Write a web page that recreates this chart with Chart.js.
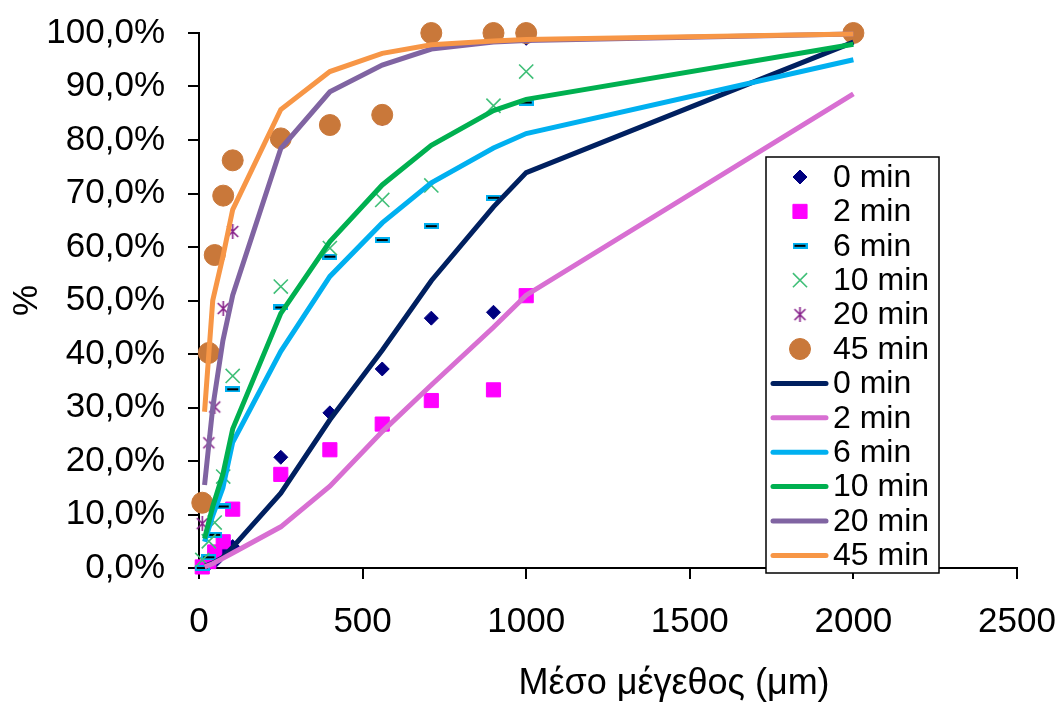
<!DOCTYPE html>
<html>
<head>
<meta charset="utf-8">
<script src="https://cdn.jsdelivr.net/npm/chart.js@4.4.1/dist/chart.umd.min.js"></script>
<style>
  html, body { margin: 0; padding: 0; background: #fff; }
  #wrap { width: 1058px; height: 702px; }
</style>
</head>
<body>
<div id="wrap"><canvas id="mychart" width="1058" height="702"></canvas></div>
<script>
// mean particle size (μm) of the measured fractions
const sizeX = [10, 30, 48, 74, 103, 250, 400, 560, 710, 900, 1000, 2000];
// sizes where the fitted curves are evaluated
const fitX = [17, 42, 73, 103, 250, 400, 560, 710, 900, 1000, 2000];

const seriesNames = ['0 min', '2 min', '6 min', '10 min', '20 min', '45 min'];

// measured cumulative passing, %
const meas0 = [0.3, 0.8, 1.2, 2.9, 4.0, 20.7, 29.0, 37.2, 46.7, 47.8, 99.0, 100];
const meas2 = [0.2, 1.2, 3.0, 4.9, 11.0, 17.5, 22.1, 26.9, 31.3, 33.3, 50.9, 100];
const meas6 = [0.0, 2.0, 6.2, 11.5, 33.4, 48.7, 58.2, 61.3, 63.9, 69.2, 87.0, 100];
const meas10 = [1.5, 5.0, 8.5, 17.1, 35.9, 52.6, 59.8, 68.8, 71.5, 86.4, 92.8, 100];
const meas20 = [8.3, 23.4, 30.1, 48.5, 62.9, 80.0, 82.5, 84.0, 100, 100, 100, 100];
const meas45 = [12.2, 40.2, 58.5, 69.6, 76.2, 80.3, 82.8, 84.7, 100, 100, 100, 100];

// fitted curves, %
const fit0 = [0.3, 0.9, 2.0, 3.9, 14.0, 27.7, 40.7, 53.7, 67.5, 73.9, 98.3];
const fit2 = [0.2, 0.8, 1.8, 2.8, 7.7, 15.3, 25.5, 34.2, 45.0, 51.0, 88.6];
const fit6 = [4.9, 9.8, 15.0, 23.5, 40.5, 54.5, 64.5, 72.0, 78.5, 81.2, 95.0];
const fit10 = [5.5, 11.5, 17.5, 26.0, 47.6, 61.0, 71.6, 79.0, 85.5, 87.6, 97.9];
const fit20 = [15.5, 30.0, 42.5, 51.0, 78.4, 89.0, 94.0, 97.0, 98.3, 98.6, 99.8];
const fit45 = [29.2, 50.0, 58.2, 67.0, 85.7, 92.8, 96.2, 97.8, 98.5, 98.8, 99.8];

const toPts = (xs, ys) => xs.map((x, i) => ({ x: x, y: ys[i] }));

// little canvases for the markers Chart.js has no style for
function dashMarker() {
  const c = document.createElement('canvas');
  c.width = 15; c.height = 6;
  const g = c.getContext('2d');
  g.fillStyle = '#00B0F0';
  g.fillRect(0, 0, 15, 6);
  g.fillStyle = '#000';
  g.fillRect(2, 2, 11, 2);
  return c;
}
function starMarker() {
  const c = document.createElement('canvas');
  c.width = 15; c.height = 15;
  const g = c.getContext('2d');
  g.strokeStyle = '#86208A';
  g.lineWidth = 1.6;
  g.beginPath();
  g.moveTo(2, 2); g.lineTo(13, 13);
  g.moveTo(13, 2); g.lineTo(2, 13);
  g.moveTo(7.5, 0); g.lineTo(7.5, 15);
  g.stroke();
  return c;
}

const markerStyles = [
  { pointStyle: 'rectRot', pointRadius: 7, color: '#000080', border: 1 },
  { pointStyle: 'rect', pointRadius: 10, color: '#FF00FF', border: 1 },
  { pointStyle: dashMarker(), pointRadius: 8, color: '#00B0F0', border: 1 },
  { pointStyle: 'crossRot', pointRadius: 10, color: '#40BF78', border: 1.6 },
  { pointStyle: starMarker(), pointRadius: 8, color: '#86208A', border: 1 },
  { pointStyle: 'circle', pointRadius: 10.5, color: '#C9783A', border: 1 }
];
const lineColors = ['#002060', '#D86FD2', '#00B0F0', '#00B050', '#8064A2', '#F79646'];

const measured = [meas0, meas2, meas6, meas10, meas20, meas45];
const fitted = [fit0, fit2, fit6, fit10, fit20, fit45];

const datasets = [];
measured.forEach((ys, i) => {
  const m = markerStyles[i];
  datasets.push({
    label: seriesNames[i],
    data: toPts(sizeX, ys),
    showLine: false,
    pointStyle: m.pointStyle,
    pointRadius: m.pointRadius,
    pointHoverRadius: m.pointRadius,
    backgroundColor: m.color,
    borderColor: m.color,
    pointBorderWidth: m.border,
    clip: false
  });
});
fitted.forEach((ys, i) => {
  datasets.push({
    label: seriesNames[i],
    data: toPts(fitX, ys),
    showLine: true,
    pointRadius: 0,
    borderColor: lineColors[i],
    backgroundColor: lineColors[i],
    borderWidth: 5,
    tension: 0,
    clip: false
  });
});
// later series sit on top
datasets.forEach((ds, i) => { ds.order = datasets.length - i; });

const FONT = 'Arial, "Liberation Sans", sans-serif';

// legend box in the lower right of the plot
const boxLegend = {
  id: 'boxLegend',
  afterDraw(chart) {
    const ctx = chart.ctx;
    const left = 766, top = 157, w = 173, h = 416, row = 34.4;
    ctx.save();
    ctx.fillStyle = '#fff';
    ctx.fillRect(left, top, w, h);
    ctx.strokeStyle = '#000';
    ctx.lineWidth = 1.5;
    ctx.strokeRect(left, top, w, h);
    ctx.font = '32px ' + FONT;
    ctx.textBaseline = 'middle';
    ctx.textAlign = 'left';
    chart.data.datasets.forEach((ds, i) => {
      const y = top + 20 + i * row;
      if (ds.showLine) {
        ctx.strokeStyle = ds.borderColor;
        ctx.lineWidth = 5;
        ctx.lineCap = 'round';
        ctx.beginPath();
        ctx.moveTo(773, y);
        ctx.lineTo(826, y);
        ctx.stroke();
      } else {
        ctx.fillStyle = ds.backgroundColor;
        ctx.strokeStyle = ds.borderColor;
        ctx.lineWidth = ds.pointBorderWidth;
        Chart.helpers.drawPoint(ctx, {
          pointStyle: ds.pointStyle,
          radius: ds.pointRadius,
          rotation: 0,
          borderWidth: ds.pointBorderWidth
        }, 800, y);
      }
      ctx.fillStyle = '#000';
      ctx.fillText(ds.label, 833, y + 1);
    });
    ctx.restore();
  }
};

// x axis title, set off to the right like the original sheet
const xTitle = {
  id: 'xTitle',
  afterDraw(chart) {
    const ctx = chart.ctx;
    ctx.save();
    ctx.font = '36px ' + FONT;
    ctx.fillStyle = '#000';
    ctx.textAlign = 'center';
    ctx.textBaseline = 'middle';
    ctx.fillText('Μέσο μέγεθος (μm)', 674, 684);
    ctx.restore();
  }
};

const ctx = document.getElementById('mychart');
const myChart = new Chart(ctx, {
  type: 'scatter',
  data: { datasets: datasets },
  plugins: [boxLegend, xTitle],
  options: {
    responsive: false,
    animation: false,
    events: [],
    layout: { padding: { top: 33, right: 41, left: 0, bottom: 0 } },
    scales: {
      x: {
        type: 'linear',
        min: 0,
        max: 2500,
        // fixed band under the plot; end labels may hang past the edges
        afterFit: (s) => { s.height = 134; s.paddingLeft = 0; s.paddingRight = 0; },
        ticks: {
          stepSize: 500,
          color: '#000',
          padding: 22,
          font: { family: FONT, size: 35 },
          maxRotation: 0,
          callback: (v) => String(v)
        },
        grid: { drawOnChartArea: false, drawTicks: true, tickLength: 11, color: '#000', lineWidth: 2 },
        border: { display: true, color: '#000', width: 2 }
      },
      y: {
        min: 0,
        max: 100,
        afterFit: (s) => { s.width = 199; s.paddingTop = 0; s.paddingBottom = 0; },
        ticks: {
          stepSize: 10,
          color: '#000',
          padding: 23,
          font: { family: FONT, size: 35 },
          callback: (v) => v.toFixed(1).replace('.', ',') + '%'
        },
        title: {
          display: true,
          text: '%',
          color: '#000',
          font: { family: FONT, size: 35 },
          padding: { top: 6 }
        },
        grid: { drawOnChartArea: false, drawTicks: true, tickLength: 11, color: '#000', lineWidth: 2 },
        border: { display: true, color: '#000', width: 2 }
      }
    },
    plugins: {
      legend: { display: false },
      tooltip: { enabled: false }
    }
  }
});
</script>
</body>
</html>
